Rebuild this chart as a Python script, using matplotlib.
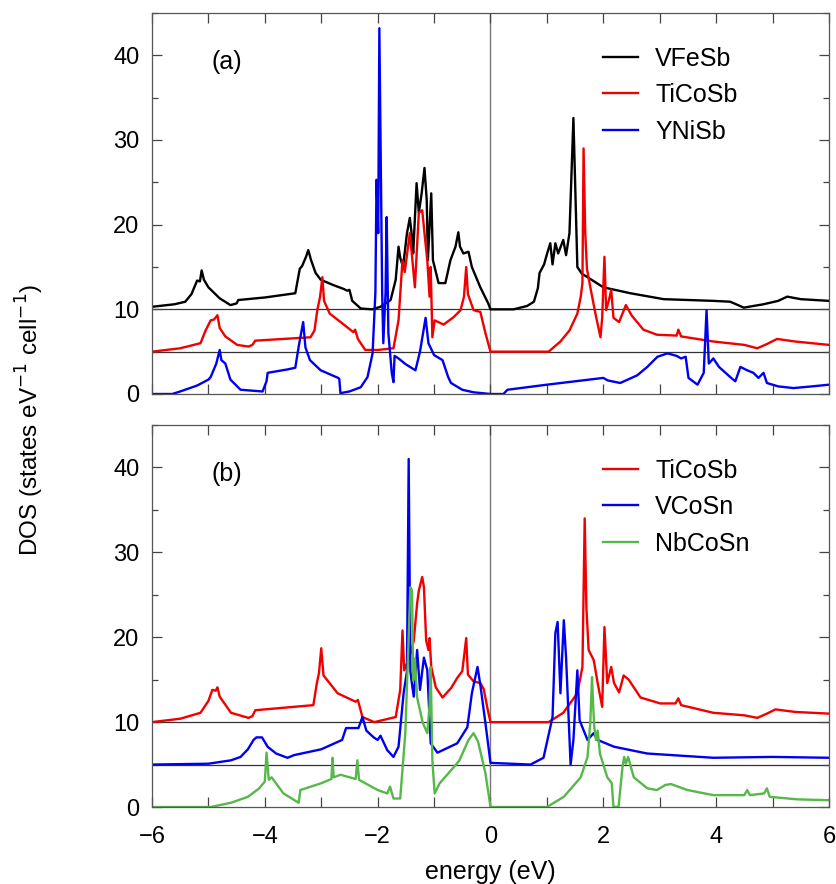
import matplotlib
matplotlib.use("Agg")
import matplotlib.pyplot as plt
import numpy as np

plt.rcParams["font.family"] = ["Liberation Sans", "DejaVu Sans"]

# (energy in eV, DOS in states/eV/cell), without the vertical offsets
VFESB = [(-6.0, 0.3), (-5.6, 0.6), (-5.41, 0.9), (-5.3, 1.8), (-5.2, 3.4), (-5.15, 3.3), (-5.12, 4.6),
         (-5.08, 3.5), (-5.0, 2.6), (-4.8, 1.3), (-4.61, 0.5), (-4.5, 0.7), (-4.47, 1.1), (-4.0, 1.4),
         (-3.46, 1.9), (-3.38, 4.8), (-3.34, 5.1), (-3.27, 6.2), (-3.23, 7.0), (-3.18, 5.8), (-3.1, 4.3),
         (-3.01, 3.5), (-2.8, 2.9), (-2.6, 2.4), (-2.54, 2.2), (-2.5, 2.3), (-2.45, 1.0), (-2.3, 0.1),
         (-2.1, 0.0), (-1.95, 0.3), (-1.77, 1.1), (-1.68, 3.5), (-1.63, 7.4), (-1.6, 6.1), (-1.55, 5.0),
         (-1.48, 9.0), (-1.43, 10.8), (-1.39, 8.5), (-1.37, 6.6), (-1.31, 14.9), (-1.27, 11.4),
         (-1.22, 13.7), (-1.17, 16.7), (-1.13, 12.9), (-1.11, 5.8), (-1.05, 13.7), (-1.02, 5.8),
         (-0.92, 3.1), (-0.8, 3.1), (-0.71, 5.8), (-0.62, 7.4), (-0.57, 9.1), (-0.54, 7.4), (-0.48, 6.6),
         (-0.39, 6.8), (-0.33, 5.0), (-0.18, 2.6), (-0.04, 0.7), (0.0, 0.0), (0.41, 0.0), (0.65, 0.4),
         (0.77, 0.9), (0.84, 2.5), (0.87, 4.3), (0.95, 5.3), (1.0, 6.5), (1.06, 7.8), (1.1, 5.3),
         (1.15, 7.8), (1.2, 6.6), (1.29, 8.2), (1.34, 6.4), (1.4, 9.0), (1.47, 22.6), (1.54, 5.0),
         (1.62, 4.2), (1.72, 3.8), (2.0, 2.6), (2.48, 1.9), (3.07, 1.2), (3.95, 1.0), (4.25, 0.9),
         (4.49, 0.2), (4.84, 0.6), (5.1, 1.0), (5.26, 1.5), (5.5, 1.2), (6.0, 1.0)]

TICOSB_A = [(-6.0, 0.0), (-5.5, 0.4), (-5.14, 1.0), (-5.05, 2.5), (-4.96, 3.7), (-4.9, 3.8), (-4.84, 4.3),
            (-4.8, 2.8), (-4.7, 1.8), (-4.49, 0.8), (-4.29, 0.6), (-4.22, 0.8), (-4.17, 1.3), (-3.19, 1.7),
            (-3.12, 2.5), (-3.07, 4.9), (-3.02, 6.5), (-2.98, 8.8), (-2.95, 6.0), (-2.85, 4.5), (-2.6, 3.2),
            (-2.43, 2.3), (-2.4, 2.6), (-2.35, 1.5), (-2.22, 0.2), (-2.0, 0.2), (-1.72, 0.4), (-1.63, 3.7),
            (-1.56, 10.8), (-1.52, 9.4), (-1.43, 14.0), (-1.38, 10.5), (-1.34, 7.6), (-1.27, 16.4),
            (-1.21, 16.7), (-1.17, 14.0), (-1.12, 10.8), (-1.08, 6.5), (-1.06, 10.0), (-1.03, 1.7),
            (-0.99, 3.7), (-0.83, 3.2), (-0.65, 4.1), (-0.53, 4.9), (-0.47, 6.5), (-0.43, 10.0),
            (-0.4, 6.8), (-0.3, 4.9), (-0.18, 4.7), (-0.09, 2.2), (0.0, 0.0), (1.03, 0.0), (1.24, 1.2),
            (1.4, 2.5), (1.54, 4.5), (1.6, 6.5), (1.63, 8.1), (1.65, 24.0), (1.68, 14.0), (1.71, 9.8),
            (1.77, 7.6), (1.86, 4.5), (1.95, 1.7), (1.98, 4.0), (2.02, 11.2), (2.05, 4.9), (2.1, 6.1),
            (2.14, 7.3), (2.18, 4.0), (2.28, 3.5), (2.4, 5.5), (2.5, 4.3), (2.71, 2.6), (2.95, 2.0),
            (3.3, 1.9), (3.33, 2.6), (3.38, 1.8), (3.95, 1.2), (4.5, 0.8), (4.73, 0.4), (4.9, 0.9),
            (5.08, 1.5), (5.4, 1.2), (6.0, 0.8)]

YNISB = [(-6.0, 0.0), (-5.64, 0.0), (-5.5, 0.3), (-5.2, 1.0), (-5.0, 1.7), (-4.96, 2.0), (-4.86, 3.6),
         (-4.8, 5.2), (-4.77, 4.0), (-4.7, 3.6), (-4.61, 1.7), (-4.43, 0.5), (-4.04, 0.3), (-3.97, 1.5),
         (-3.95, 2.5), (-3.6, 2.9), (-3.46, 3.1), (-3.4, 5.6), (-3.32, 8.5), (-3.28, 5.5), (-3.2, 4.0),
         (-3.01, 2.8), (-2.7, 1.9), (-2.68, 1.8), (-2.66, 0.1), (-2.5, 0.3), (-2.3, 0.8), (-2.18, 2.0),
         (-2.09, 4.8), (-2.04, 12.0), (-2.02, 25.3), (-1.99, 19.0), (-1.97, 43.2), (-1.94, 24.4),
         (-1.92, 12.0), (-1.9, 6.0), (-1.86, 12.0), (-1.84, 20.9), (-1.81, 7.2), (-1.75, 2.5),
         (-1.72, 1.4), (-1.7, 4.5), (-1.63, 4.2), (-1.5, 3.5), (-1.33, 2.8), (-1.25, 5.0), (-1.15, 9.0),
         (-1.1, 6.0), (-1.0, 4.6), (-0.85, 4.0), (-0.75, 2.0), (-0.7, 1.3), (-0.5, 0.5), (-0.3, 0.2),
         (0.0, 0.0), (0.23, 0.0), (0.3, 0.5), (1.0, 1.1), (1.5, 1.5), (2.0, 1.9), (2.08, 1.6), (2.3, 1.3),
         (2.6, 2.2), (2.78, 3.2), (2.96, 4.4), (3.14, 4.8), (3.3, 4.5), (3.38, 4.2), (3.46, 4.4),
         (3.51, 1.9), (3.67, 1.1), (3.78, 2.5), (3.83, 9.9), (3.87, 3.6), (3.95, 4.2), (4.05, 3.2),
         (4.25, 2.0), (4.34, 1.5), (4.43, 3.2), (4.55, 2.8), (4.66, 2.5), (4.75, 1.9), (4.84, 2.5),
         (4.9, 1.3), (5.1, 0.9), (5.37, 0.7), (5.7, 0.9), (6.0, 1.1)]

TICOSB_B = [(-6.0, 0.0), (-5.5, 0.4), (-5.14, 1.1), (-5.0, 2.5), (-4.93, 3.8), (-4.87, 3.7), (-4.84, 4.1),
            (-4.8, 3.0), (-4.6, 1.1), (-4.29, 0.5), (-4.22, 0.7), (-4.17, 1.4), (-3.14, 2.0), (-3.08, 4.5),
            (-3.04, 5.8), (-3.0, 8.7), (-2.96, 5.5), (-2.71, 3.4), (-2.39, 2.4), (-2.35, 2.6), (-2.27, 0.6),
            (-2.06, 0.0), (-1.68, 0.6), (-1.6, 3.8), (-1.56, 10.8), (-1.53, 6.1), (-1.42, 8.0),
            (-1.36, 9.6), (-1.3, 14.0), (-1.27, 15.5), (-1.21, 17.1), (-1.18, 15.9), (-1.14, 9.6),
            (-1.1, 8.5), (-1.08, 9.9), (-1.05, 6.5), (-0.97, 4.1), (-0.85, 2.9), (-0.7, 4.0), (-0.59, 5.2),
            (-0.5, 6.0), (-0.43, 9.9), (-0.4, 5.6), (-0.3, 4.8), (-0.18, 4.6), (-0.12, 3.9), (-0.05, 1.5),
            (0.0, 0.0), (1.03, 0.0), (1.29, 1.1), (1.54, 3.4), (1.63, 6.5), (1.67, 24.0), (1.7, 13.5),
            (1.74, 8.5), (1.83, 7.3), (1.9, 4.6), (1.98, 1.8), (2.02, 11.2), (2.07, 4.6), (2.14, 6.5),
            (2.19, 4.6), (2.28, 3.5), (2.36, 5.5), (2.45, 5.0), (2.66, 2.9), (3.01, 2.2), (3.28, 2.2),
            (3.33, 2.8), (3.38, 2.0), (3.95, 1.1), (4.5, 0.8), (4.73, 0.5), (4.9, 1.0), (5.05, 1.5),
            (5.4, 1.2), (6.0, 1.0)]

VCOSN = [(-6.0, 0.0), (-5.0, 0.1), (-4.6, 0.5), (-4.43, 0.9), (-4.3, 1.8), (-4.2, 2.9), (-4.15, 3.2),
         (-4.05, 3.2), (-3.95, 2.1), (-3.8, 1.3), (-3.6, 0.8), (-3.52, 1.0), (-3.49, 1.1), (-3.0, 1.8),
         (-2.63, 2.9), (-2.56, 4.3), (-2.45, 4.3), (-2.34, 4.3), (-2.27, 5.6), (-2.2, 4.0), (-2.07, 3.2),
         (-2.0, 2.9), (-1.95, 3.4), (-1.83, 1.7), (-1.72, 0.9), (-1.63, 2.1), (-1.54, 8.4), (-1.48, 11.0),
         (-1.45, 36.0), (-1.42, 11.0), (-1.4, 9.9), (-1.36, 8.0), (-1.3, 13.5), (-1.25, 8.8),
         (-1.18, 12.6), (-1.12, 11.1), (-1.06, 2.5), (-0.94, 1.4), (-0.59, 2.5), (-0.41, 4.4),
         (-0.33, 8.4), (-0.23, 11.5), (-0.18, 9.4), (-0.09, 4.9), (0.0, 0.2), (0.71, 0.0), (0.94, 0.8),
         (1.1, 5.6), (1.15, 15.5), (1.19, 16.8), (1.24, 8.4), (1.3, 17.0), (1.34, 12.6), (1.42, 0.0),
         (1.47, 2.9), (1.54, 11.1), (1.58, 5.2), (1.72, 2.9), (1.83, 3.7), (1.9, 2.9), (2.19, 2.1),
         (2.78, 1.3), (3.95, 0.8), (5.0, 0.9), (6.0, 0.8)]

NBCOSN = [(-6.0, 0.0), (-4.96, 0.0), (-4.6, 0.5), (-4.3, 1.2), (-4.1, 2.2), (-4.0, 3.0), (-3.97, 6.4),
          (-3.93, 3.2), (-3.88, 3.5), (-3.67, 1.6), (-3.4, 0.5), (-3.37, 2.0), (-3.0, 2.8), (-2.82, 3.3),
          (-2.8, 5.8), (-2.78, 3.5), (-2.66, 3.8), (-2.39, 3.3), (-2.36, 5.5), (-2.33, 3.2), (-2.0, 2.0),
          (-1.83, 1.6), (-1.78, 2.4), (-1.72, 1.0), (-1.6, 1.0), (-1.51, 8.7), (-1.45, 20.0),
          (-1.42, 25.9), (-1.39, 25.5), (-1.37, 14.9), (-1.34, 17.5), (-1.3, 12.9), (-1.2, 9.9),
          (-1.12, 8.7), (-1.08, 12.0), (-1.06, 16.5), (-1.03, 5.5), (-0.99, 1.6), (-0.9, 2.8),
          (-0.65, 4.7), (-0.55, 5.5), (-0.39, 7.9), (-0.3, 8.7), (-0.22, 7.7), (-0.09, 4.0), (0.0, 0.0),
          (1.0, 0.0), (1.3, 1.2), (1.6, 3.5), (1.72, 5.9), (1.77, 10.0), (1.8, 15.3), (1.82, 12.0),
          (1.84, 9.4), (1.87, 7.9), (1.9, 9.0), (1.94, 6.3), (2.07, 3.5), (2.15, 2.8), (2.18, 0.0),
          (2.27, 0.0), (2.34, 4.7), (2.37, 5.9), (2.4, 5.1), (2.44, 5.9), (2.54, 3.5), (2.78, 2.2),
          (2.95, 2.0), (3.1, 2.6), (3.2, 2.7), (3.49, 2.0), (3.95, 1.4), (4.5, 1.4), (4.55, 2.0),
          (4.6, 1.4), (4.85, 1.6), (4.9, 2.2), (4.95, 1.2), (5.44, 0.9), (6.0, 0.8)]

# curves are stacked: shifted up by these amounts (states/eV/cell)
OFFSETS = [10, 5, 0]

PANEL_A = [("VFeSb", VFESB, "black"), ("TiCoSb", TICOSB_A, "#f00000"), ("YNiSb", YNISB, "#0000f0")]
PANEL_B = [("TiCoSb", TICOSB_B, "#f00000"), ("VCoSn", VCOSN, "#0000f0"), ("NbCoSn", NBCOSN, "#55b848")]

fig = plt.figure(figsize=(8.37, 8.84), dpi=100)
ax_a = fig.add_axes([0.1816, 0.5543, 0.8088, 0.4310])
ax_b = fig.add_axes([0.1816, 0.0871, 0.8088, 0.4321])

for ax, curves, tag in [(ax_a, PANEL_A, "(a)"), (ax_b, PANEL_B, "(b)")]:
    for off in OFFSETS[:2]:
        ax.axhline(off, color="#333333", lw=0.9, zorder=1)
    ax.axvline(0, color="#777777", lw=1.0, zorder=1)
    for (name, pts, col), off in zip(curves, OFFSETS):
        e, d = np.array(pts).T
        ax.plot(e, d + off, color=col, lw=1.7, label=name, zorder=2)

    ax.set_xlim(-6, 6)
    ax.set_ylim(0, 45)
    ax.set_xticks(np.arange(-6, 7, 2))
    ax.set_xticks(np.arange(-6, 7, 1), minor=True)
    ax.set_yticks(np.arange(0, 41, 10))
    ax.set_yticks(np.arange(0, 46, 5), minor=True)
    ax.tick_params(which="both", direction="in", top=True, right=True, labelsize=17,
                   color="#444444", width=0.9)
    ax.tick_params(which="major", length=7)
    ax.tick_params(which="minor", length=4)
    ax.tick_params(axis="x", which="minor", length=7)
    ax.tick_params(axis="y", pad=9)
    ax.tick_params(axis="x", pad=14)
    for sp in ax.spines.values():
        sp.set_color("#555555")
        sp.set_linewidth(0.9)

    ax.text(-4.68, 39.2, tag, fontsize=18, ha="center", va="center")
    ax.legend(loc="upper left", bbox_to_anchor=(0.666, 0.912), frameon=False, fontsize=18,
              handlelength=1.4, handletextpad=0.7, labelspacing=0.5, borderpad=0, borderaxespad=0)

ax_a.tick_params(axis="x", labelbottom=False)
ax_b.set_xlabel("energy (eV)", fontsize=18, labelpad=8)

fig.text(0.036, 0.525, r"DOS (states eV$^{-1}$ cell$^{-1}$)", rotation=90, ha="center", va="center",
         fontsize=17.5)

fig.savefig("out.png", dpi=100)
